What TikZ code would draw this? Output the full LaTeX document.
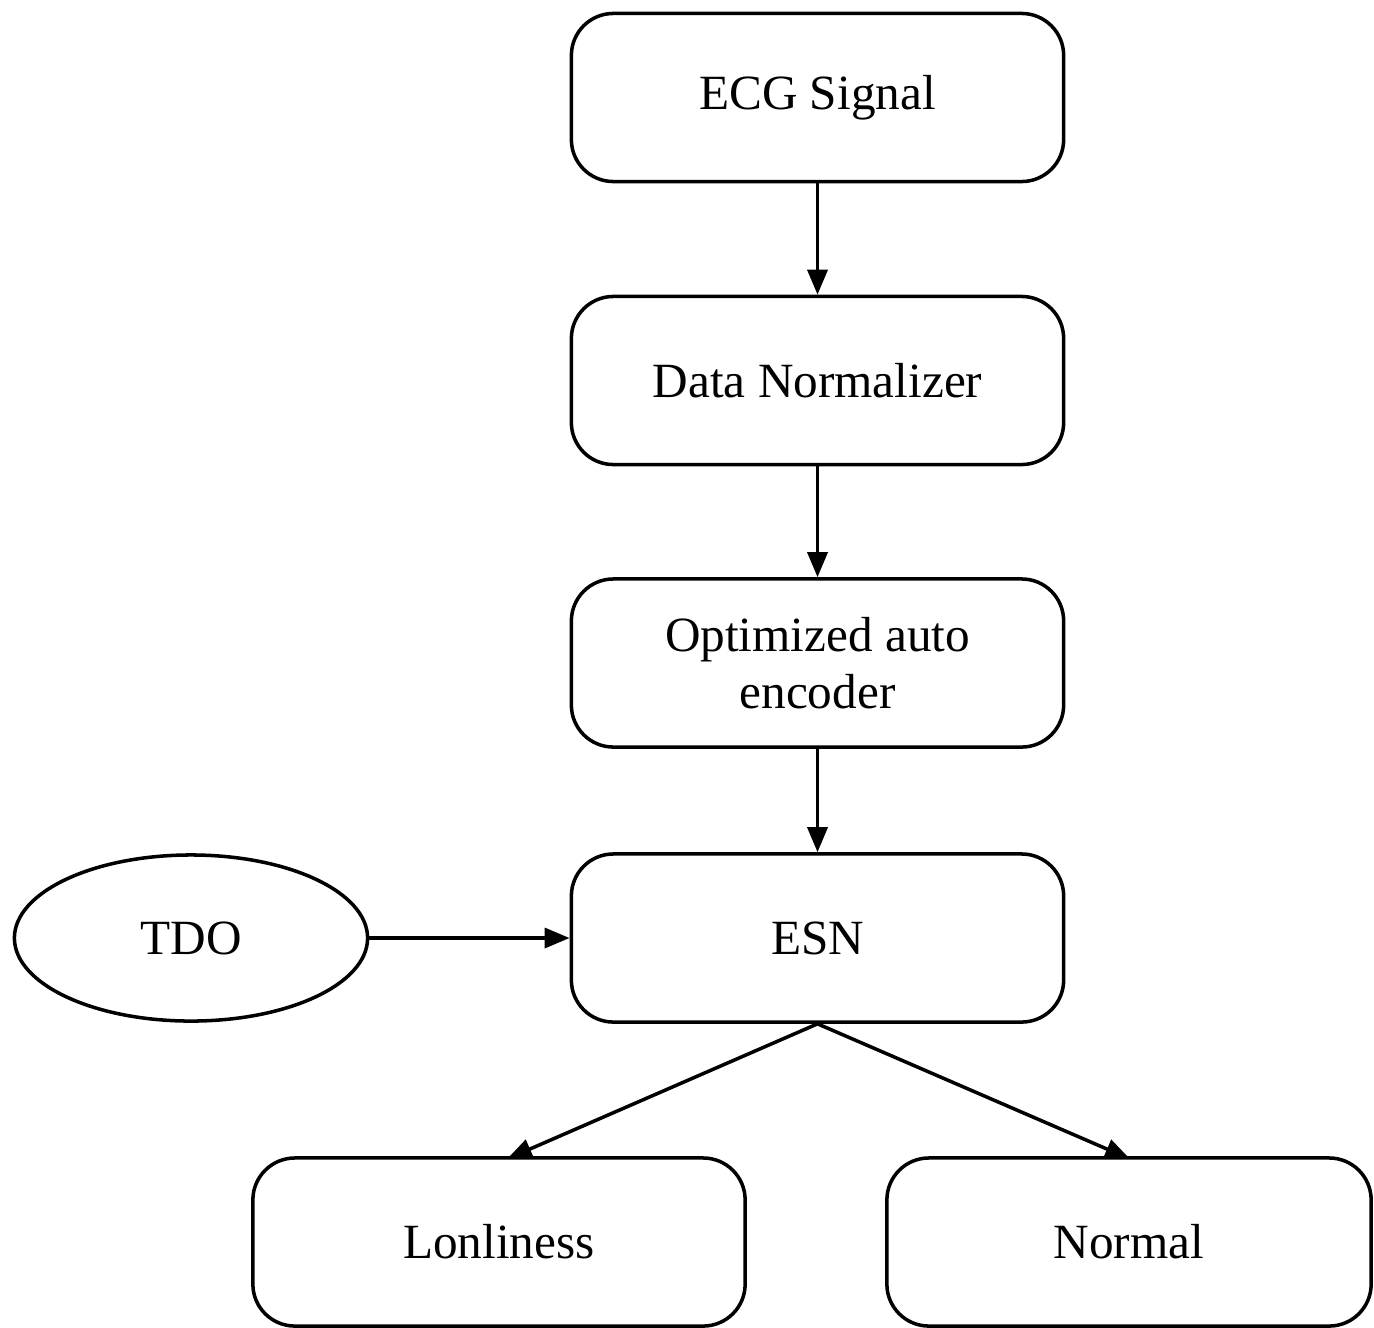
\documentclass[tikz,border=0pt]{standalone}
\usepackage{fontspec}
\setmainfont{Liberation Serif}
\usetikzlibrary{arrows.meta,shapes.geometric}
\begin{document}
\begin{tikzpicture}[x=0.01cm,y=-0.01cm,
  box/.style={draw, line width=1pt, rounded corners=0.42cm, minimum width=4.92cm, minimum height=1.68cm, inner sep=0pt, align=center, font=\fontsize{14}{16.3}\selectfont},
  oval/.style={draw, line width=1pt, ellipse, minimum width=3.53cm, minimum height=1.66cm, inner sep=0pt, font=\fontsize{14}{16.3}\selectfont},
  conn/.style={line width=1pt, -{Triangle[length=2.5mm,width=2mm]}}]
\useasboundingbox (0,0) rectangle (1374,1327);
\node[box] (ecg) at (817.5,97.5) {ECG Signal};
\node[box] (norm) at (817.5,380.5) {Data Normalizer};
\node[box] (ae) at (817.5,663) {Optimized auto\\encoder};
\node[box] (esn) at (817.5,938) {ESN};
\node[oval] (tdo) at (191,938) {TDO};
\node[box] (lon) at (499,1242) {Lonliness};
\node[box, minimum width=4.84cm] (nor) at (1129,1242) {Normal};
\coordinate (lonin) at (507,1159);
\coordinate (norin) at (1130,1159);
\draw[conn] (ecg) -- (norm);
\draw[conn] (norm) -- (ae);
\draw[conn] (ae) -- (esn);
\draw[conn] (tdo) -- (esn);
\draw[conn] (esn.south) -- (lonin);
\draw[conn] (esn.south) -- (norin);
\end{tikzpicture}
\end{document}
